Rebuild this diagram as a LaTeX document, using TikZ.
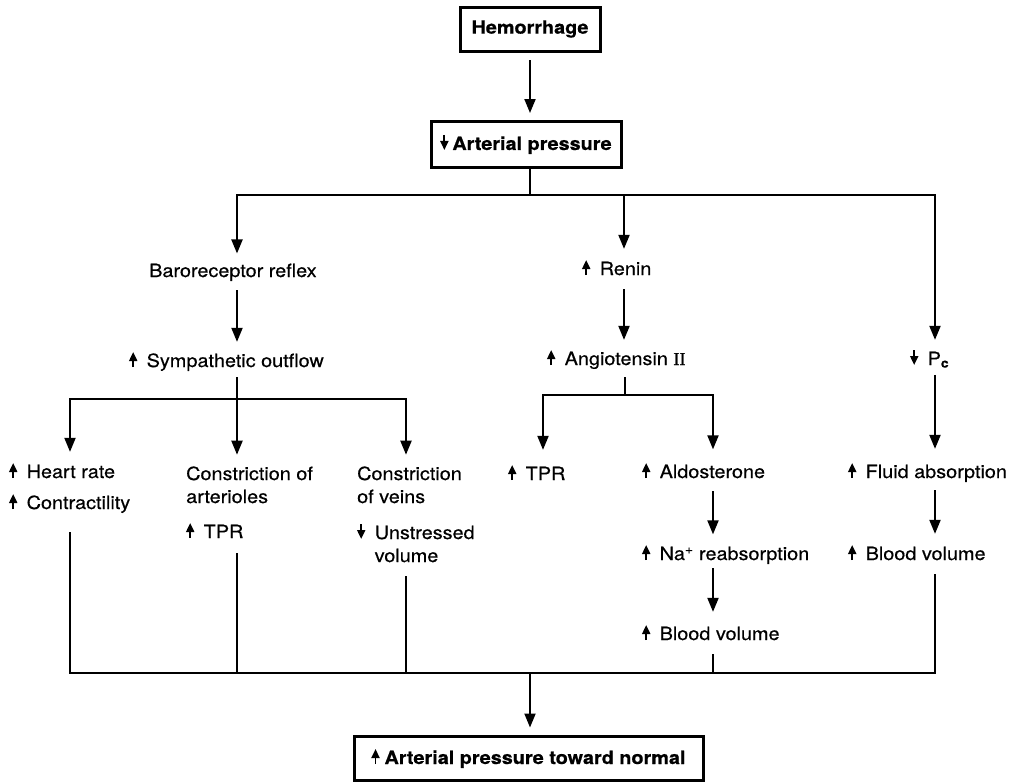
\documentclass[tikz,border=0pt]{standalone}
\usepackage{fontspec}
\setmainfont{TeX Gyre Heros}[FakeStretch=1.09, UprightFeatures={FakeBold=0.4}, BoldFeatures={FakeBold=0.6}]
\newfontfamily\romII{Liberation Serif}[FakeBold=1]
\usetikzlibrary{arrows.meta}
\newcommand\upa{\begin{tikzpicture}[x=1pt,y=1pt,baseline=0pt]\path (0,0) (8,0);\draw[line width=1.9pt,-{Triangle[length=9pt,width=8pt]}] (4,0) -- (4,15);\end{tikzpicture}}
\newcommand\dna{\begin{tikzpicture}[x=1pt,y=1pt,baseline=0pt]\path (0,0) (8,0);\draw[line width=1.9pt,-{Triangle[length=9pt,width=8pt]}] (4,15) -- (4,0);\end{tikzpicture}}
\newcommand\upx{\upa\hspace{9.5pt}}
\newcommand\dnx{\dna\hspace{9.5pt}}
\begin{document}
\begin{tikzpicture}[x=1pt,y=-1pt,
  every node/.style={font=\fontsize{18.2}{23}\selectfont, inner sep=0pt},
  txt/.style={anchor=base west},
  box/.style={draw, line width=3pt, font=\fontsize{18.2}{23}\selectfont\bfseries, inner sep=0pt},
  arr/.style={line width=2pt, -{Triangle[length=14pt,width=11pt]}, shorten >=10pt},
  ln/.style={line width=1.8pt},
  thinln/.style={line width=1.5pt}]
\useasboundingbox (0,0) rectangle (1018,782);

% boxes
\node[box, minimum width=140pt, minimum height=44pt] (hem) at (530,29) {Hemorrhage};
\node[box, minimum width=190pt, minimum height=46pt] (ap) at (526,144) {\dna\hspace{4pt}Arterial pressure};
\node[box, minimum width=349pt, minimum height=44pt] (fin) at (528.5,758) {\upa\hspace{5pt}Arterial pressure toward normal};

% text nodes
\node[txt] (baro) at (149,277) {Baroreceptor reflex};
\node[txt] (renin) at (582,275) {\upx Renin};
\node[txt] (symp) at (129,367) {\upx Sympathetic outflow};
\node[txt] (ang) at (547,365) {\upx Angiotensin {\romII II}};
\node[txt] (pc) at (910,365) {\dnx P\textsubscript{\bfseries c}};
\node[txt] (hr) at (9,478) {\vtop{\hbox{\upx Heart rate}\vskip8pt\hbox{\upx Contractility}}};
\node[txt] (art) at (186,480) {\vtop{\hbox{Constriction of}\hbox{arterioles}\vskip12pt\hbox{\upx TPR}}};
\node[txt] (veins) at (357,480) {\vtop{\hbox{Constriction}\hbox{of veins}\vskip13pt\hbox{\dnx Unstressed}\hbox{\hspace{17.5pt}volume}}};
\node[txt] (tpr) at (508,480) {\upx TPR};
\node[txt] (aldo) at (642,478) {\upx Aldosterone};
\node[txt] (na) at (642,560) {\upx Na\textsuperscript{+} reabsorption};
\node[txt] (bv1) at (642,640) {\upx Blood volume};
\node[txt] (fluid) at (848,478) {\upx Fluid absorption};
\node[txt] (bv2) at (848,560) {\upx Blood volume};

% junction coordinates
\coordinate (s1) at (530,195);
\coordinate (bL) at (237,195);
\coordinate (bM) at (624,195);
\coordinate (bR) at (935,195);
\coordinate (s2) at (237,399);
\coordinate (c1) at (70,399);
\coordinate (c3) at (406,399);
\coordinate (s3) at (625,395);
\coordinate (c4) at (543,395);
\coordinate (c5) at (713,395);
\coordinate (e1) at (70,673);
\coordinate (e2) at (237,673);
\coordinate (e3) at (406,673);
\coordinate (e4) at (713,673);
\coordinate (e5) at (935,673);
\coordinate (s4) at (530,673);

% top
\draw[arr, shorten <=7.5pt, shorten >=6.5pt] (hem.south) -- (hem.south |- ap.north);
\draw[ln] (ap.south -| s1) -- (s1);
\draw[arr] (bM) -- (bL) -- (bL |- baro.north);
\draw[arr, shorten >=9pt] (bM) -- (bR) -- (bR |- pc.north);
\draw[arr] (bM) -- (bM |- renin.north);
\draw[arr, shorten <=9pt, shorten >=9pt] (baro.south -| bL) -- (bL |- symp.north);
\draw[arr, shorten <=13pt, shorten >=9pt] (renin.south -| bM) -- (bM |- ang.north);

% sympathetic branches
\draw[ln, shorten <=6pt] (symp.south -| s2) -- (s2);
\draw[arr] (s2) -- (c1) -- (c1 |- hr.north);
\draw[arr, shorten >=11.5pt] (s2) -- (s2 |- art.north);
\draw[arr, shorten >=11.5pt] (s2) -- (c3) -- (c3 |- veins.north);

% angiotensin branches
\draw[ln, shorten <=8pt] (ang.south -| s3) -- (s3);
\draw[arr, shorten >=14pt] (s3) -- (c4) -- (c4 |- tpr.north);
\draw[arr, shorten >=12.5pt] (s3) -- (c5) -- (c5 |- aldo.north);
\draw[arr, shorten <=12pt, shorten >=9.5pt] (aldo.south -| c5) -- (c5 |- na.north);
\draw[arr, shorten <=4pt, shorten >=12pt] (na.south -| c5) -- (c5 |- bv1.north);

% capillary branch
\draw[arr, shorten <=7pt, shorten >=13pt] (pc.south -| bR) -- (bR |- fluid.north);
\draw[arr, shorten <=8pt, shorten >=10pt] (fluid.south -| bR) -- (bR |- bv2.north);

% merge to bottom
\draw[thinln, shorten <=19pt, shorten >=13pt] (hr.south -| e1) -- (e1) -- (e5) -- (bv2.south -| e5);
\draw[thinln, shorten <=14pt] (art.south -| e2) -- (e2);
\draw[thinln, shorten <=14pt] (veins.south -| e3) -- (e3);
\draw[thinln, shorten <=13pt] (bv1.south -| e4) -- (e4);
\draw[arr, shorten >=7pt] (s4) -- (s4 |- fin.north);
\end{tikzpicture}
\end{document}
